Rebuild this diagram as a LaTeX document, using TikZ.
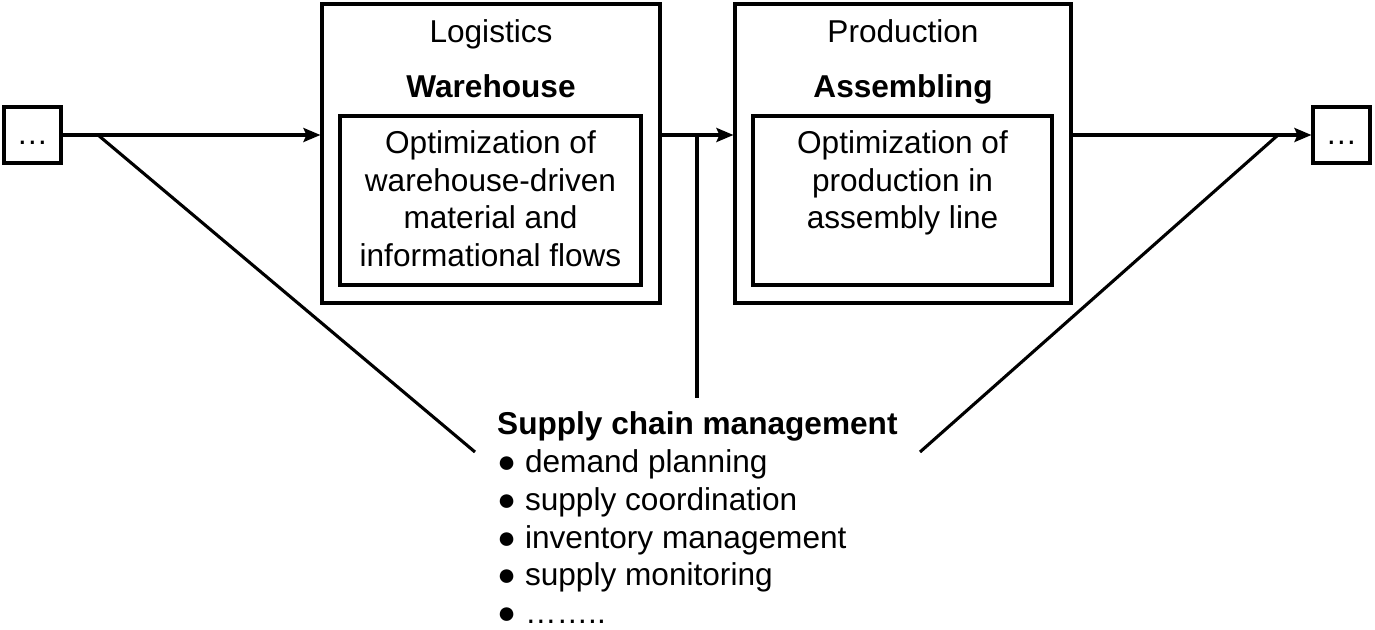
\documentclass[tikz,border=0pt]{standalone}
\usepackage{fontspec}
\setmainfont{Liberation Sans}
\usetikzlibrary{arrows.meta}
\begin{document}
\begin{tikzpicture}[x=1pt,y=-1pt,
  box/.style={draw, line width=3.1pt, inner sep=0pt},
  txt/.style={inner sep=0pt, font=\fontsize{31.6}{37.6}\selectfont},
  btxt/.style={txt, font=\fontsize{31.6}{37.6}\selectfont\bfseries},
  conn/.style={line width=3.1pt},
  arr/.style={conn, -{Stealth[length=17pt,width=14pt,inset=3pt]}}]
\useasboundingbox (0,0) rectangle (1375,629);
% small boxes
\node[box, minimum width=57pt, minimum height=56pt] (L) at (32.5,135) {};
\node[txt, anchor=base] (Ld) at (32.5,144) {…};
\node[box, minimum width=57pt, minimum height=56pt] (R) at (1341.5,135) {};
\node[txt, anchor=base] (Rd) at (1341.5,144) {…};
% warehouse
\node[box, minimum width=338pt, minimum height=299pt] (W) at (491,153.5) {};
\node[box, minimum width=301pt, minimum height=169pt] (Wi) at (490.5,200.5) {};
\node[txt, anchor=base] (Wt1) at (491,42) {Logistics};
\node[btxt, anchor=base] (Wt2) at (491,97) {Warehouse};
\node[txt, anchor=base] (Wa) at (490.5,153) {Optimization of};
\node[txt, anchor=base] (Wb) at (490.5,191) {warehouse-driven};
\node[txt, anchor=base] (Wc) at (490.5,228) {material and};
\node[txt, anchor=base] (Wd) at (490.5,266) {informational flows};
% production
\node[box, minimum width=336pt, minimum height=299pt] (P) at (903,153.5) {};
\node[box, minimum width=299pt, minimum height=169pt] (Pi) at (902.5,200.5) {};
\node[txt, anchor=base] (Pt1) at (903,42) {Production};
\node[btxt, anchor=base] (Pt2) at (903,97) {Assembling};
\node[txt, anchor=base] (Pa) at (902.5,153) {Optimization of};
\node[txt, anchor=base] (Pb) at (902.5,191) {production in};
\node[txt, anchor=base] (Pc) at (902.5,228) {assembly line};
% supply chain text
\node[btxt, anchor=base west] (S0) at (497,434) {Supply chain management};
\node[txt, anchor=base west] (S1) at (497,472) {● demand planning};
\node[txt, anchor=base west] (S2) at (497,510) {● supply coordination};
\node[txt, anchor=base west] (S3) at (497,548) {● inventory management};
\node[txt, anchor=base west] (S4) at (497,585) {● supply monitoring};
\node[txt, anchor=base west] (S5) at (497,623) {● ……..};
% coordinates
\coordinate (j) at (697,135);
\coordinate (jb) at (697,398);
\coordinate (d1) at (98,135);
\coordinate (d1e) at (475,452);
\coordinate (d2) at (1278,135);
\coordinate (d2e) at (920,452);
% connectors
\draw[arr] (L.east) -- (L.east -| W.west);
\draw[arr] (W.east |- j) -- (P.west |- j);
\draw[arr] (P.east |- R.west) -- (R.west);
\draw[conn] (j) -- (jb);
\draw[conn] (d1) -- (d1e);
\draw[conn] (d2) -- (d2e);
\end{tikzpicture}
\end{document}
